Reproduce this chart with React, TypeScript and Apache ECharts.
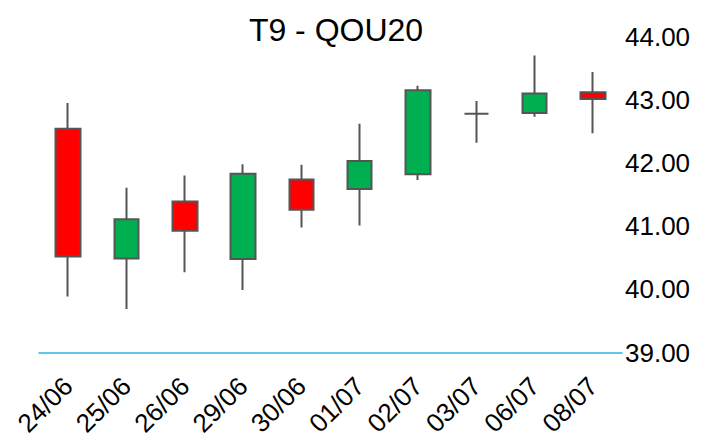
import React, { useEffect, useRef } from "react";
import * as echarts from "echarts";

const categories = ["24/06", "25/06", "26/06", "29/06", "30/06", "01/07", "02/07", "03/07", "06/07", "08/07"];
const opens = [42.54, 40.49, 41.39, 40.48, 41.74, 41.59, 41.82, 42.78, 42.79, 43.12];
const closes = [40.52, 41.11, 40.93, 41.83, 41.26, 42.03, 43.15, 42.78, 43.10, 43.01];
const lows = [39.89, 39.69, 40.27, 39.99, 40.98, 41.01, 41.73, 42.32, 42.73, 42.47];
const highs = [42.95, 41.61, 41.80, 41.98, 41.97, 42.62, 43.22, 42.98, 43.70, 43.44];
const yMin = 39;
const yMax = 44;
const yInterval = 1;
const titleText = "T9 - QOU20";

const FONT = "Arial, 'Liberation Sans', sans-serif";

export default function App() {
  const ref = useRef<HTMLDivElement>(null);
  useEffect(() => {
    if (!ref.current) return;
    const chart = echarts.init(ref.current, undefined, { renderer: "svg" });
    const data = categories.map((_, i) => [opens[i], closes[i], lows[i], highs[i]]);
    chart.setOption({
      animation: false,
      backgroundColor: "#ffffff",
      title: {
        text: titleText,
        left: 331,
        textAlign: "center",
        top: 9,
        textStyle: { fontFamily: FONT, fontSize: 32, fontWeight: "normal", color: "#000" },
      },
      grid: { left: 39, right: 82, top: 36.5, bottom: 85.5, containLabel: false },
      xAxis: {
        type: "category",
        data: categories,
        boundaryGap: true,
        axisLine: { show: true, lineStyle: { color: "#2bb5e8", width: 1.5 } },
        axisTick: { show: false },
        splitLine: { show: false },
        axisLabel: {
          rotate: 45,
          margin: 29,
          fontSize: 26,
          fontFamily: FONT,
          color: "#000",
          interval: 0,
        },
      },
      yAxis: {
        type: "value",
        position: "right",
        min: yMin,
        max: yMax,
        interval: yInterval,
        scale: true,
        axisLine: { show: false },
        axisTick: { show: false },
        splitLine: { show: false },
        axisLabel: {
          margin: 3,
          fontSize: 26,
          fontFamily: FONT,
          color: "#000",
          formatter: (v: number) => v.toFixed(2),
        },
      },
      series: [
        {
          type: "candlestick",
          data,
          barWidth: 25,
          itemStyle: {
            color: "#00b050",
            color0: "#ff0000",
            borderColor: "#555555",
            borderColor0: "#555555",
            borderColorDoji: "#555555",
            borderWidth: 2,
          },
        },
      ],
    });
    return () => chart.dispose();
  }, []);
  return <div ref={ref} style={{ position: "fixed", left: 0, top: 0, width: 704, height: 439 }} />;
}
